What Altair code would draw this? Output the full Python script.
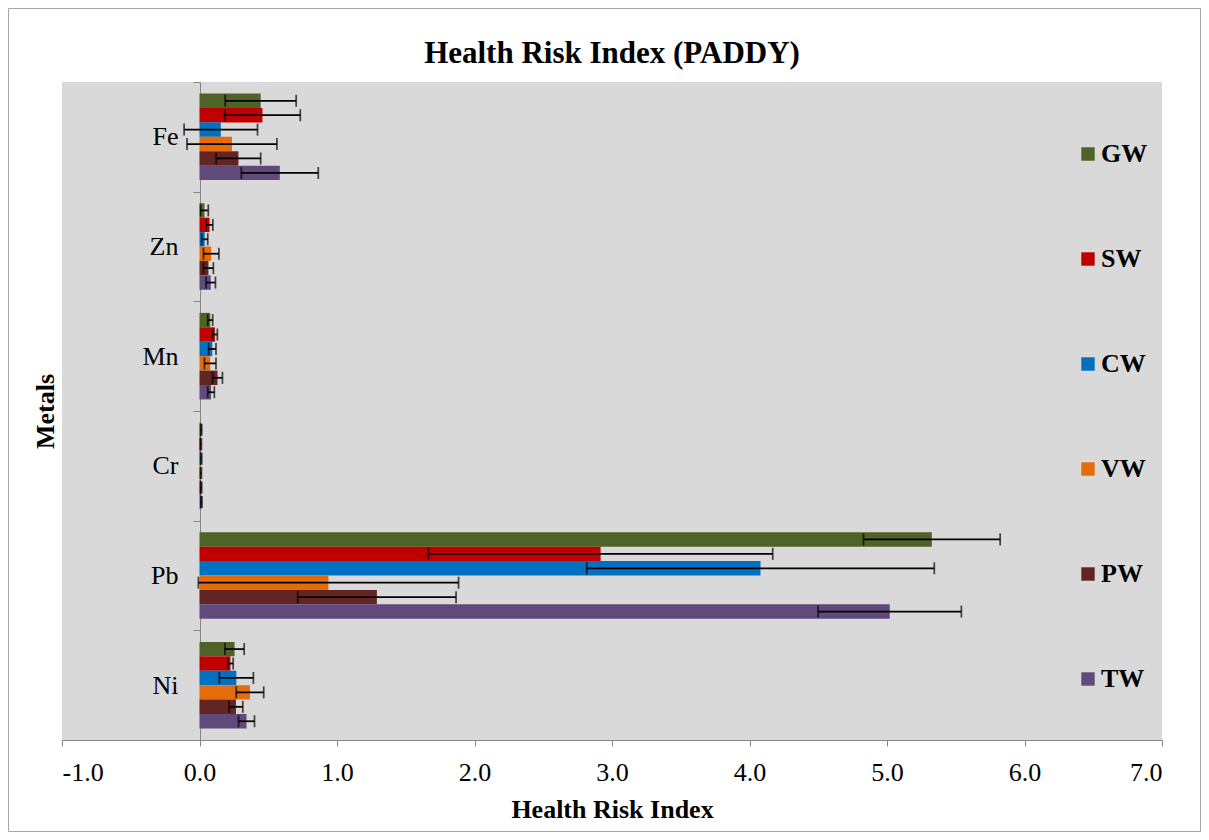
import altair as alt
import pandas as pd

metals = ["Fe", "Zn", "Mn", "Cr", "Pb", "Ni"]
series = ["GW", "SW", "CW", "VW", "PW", "TW"]
colors = ["#4F6228", "#C00000", "#0070C0", "#E46C0A", "#632523", "#604A7B"]

gw = [0.445, 0.036, 0.078, 0.012, 5.326, 0.255]
sw = [0.458, 0.073, 0.112, 0.010, 2.917, 0.225]
cw = [0.155, 0.038, 0.093, 0.012, 4.080, 0.268]
vw = [0.236, 0.085, 0.078, 0.010, 0.938, 0.367]
pw = [0.283, 0.065, 0.131, 0.012, 1.290, 0.265]
tw = [0.584, 0.082, 0.084, 0.014, 5.020, 0.342]

gw_err = [0.258, 0.028, 0.018, 0.004, 0.497, 0.070]
sw_err = [0.275, 0.024, 0.018, 0.004, 1.252, 0.020]
cw_err = [0.267, 0.022, 0.027, 0.004, 1.264, 0.124]
vw_err = [0.327, 0.056, 0.042, 0.004, 0.946, 0.100]
pw_err = [0.162, 0.036, 0.036, 0.004, 0.576, 0.050]
tw_err = [0.280, 0.034, 0.024, 0.004, 0.521, 0.058]

x_ticks = [-1, 0, 1, 2, 3, 4, 5, 6, 7]

rows = []
for s, vals, errs in zip(series, [gw, sw, cw, vw, pw, tw],
                         [gw_err, sw_err, cw_err, vw_err, pw_err, tw_err]):
    for m, v, e in zip(metals, vals, errs):
        rows.append(dict(metal=m, series=s, value=v, lo=v - e, hi=v + e))
df = pd.DataFrame(rows)

FONT = "Liberation Serif"
W, H = 1100, 658
PAD = {"left": 54, "top": 74, "right": 39, "bottom": 92}
GRAY = "#868686"

x_scale = alt.Scale(domain=[-1, 7], nice=False)
x_axis = alt.Axis(values=x_ticks,
                  labelExpr="datum.value < 0 ? '-' + format(-datum.value, '.1f') : format(datum.value, '.1f')",
                  grid=False, labelFont=FONT, labelFontSize=26, labelColor="black",
                  labelBaseline="alphabetic", tickColor=GRAY, domainColor=GRAY,
                  tickSize=6, labelPadding=34, titleFont=FONT, titleFontSize=26,
                  titleFontWeight="bold", titleColor="black", titleBaseline="alphabetic",
                  titleY=77, titleX=W / 2, titleAlign="center")
y_scale = alt.Scale(domain=metals, paddingInner=0, paddingOuter=0)
y_axis = alt.Axis(offset=-138, tickBand="extent", labelFont=FONT, labelFontSize=26,
                  labelColor="black", tickColor=GRAY, domainColor=GRAY,
                  tickSize=7, labelPadding=15, titleFont=FONT, titleFontSize=26,
                  titleFontWeight="bold", titleColor="black", titleX=-147,
                  titleY=H / 2, titleAngle=-90, titleAlign="center",
                  titleBaseline="alphabetic")
yoff = alt.YOffset("series:N", sort=series,
                   scale=alt.Scale(domain=series, paddingInner=0, paddingOuter=0.8))
y_enc = alt.Y("metal:N", sort=metals, scale=y_scale, axis=y_axis, title="Metals")

bars = alt.Chart(df).mark_bar().encode(
    x=alt.X("value:Q", scale=x_scale, axis=x_axis, title="Health Risk Index"),
    y=y_enc,
    yOffset=yoff,
    color=alt.Color("series:N", sort=series,
                    scale=alt.Scale(domain=series, range=colors),
                    legend=alt.Legend(orient="none", legendX=1013, legendY=59,
                                      title=None, labelFont=FONT, labelFontSize=26,
                                      labelFontWeight="bold", labelColor="black",
                                      symbolType="square", symbolSize=180,
                                      symbolStrokeWidth=0, rowPadding=79,
                                      labelOffset=0, padding=0)),
)

rules = alt.Chart(df).mark_rule(color="black", strokeWidth=1.75).encode(
    x=alt.X("lo:Q", scale=x_scale, axis=x_axis, title="Health Risk Index"),
    x2="hi:Q",
    y=y_enc,
    yOffset=yoff,
)

caps = alt.Chart(df).transform_fold(["lo", "hi"], as_=["end", "pos"]).mark_tick(
    color="black", thickness=1.75, size=12, orient="vertical"
).encode(
    x=alt.X("pos:Q", scale=x_scale, axis=x_axis, title="Health Risk Index"),
    y=y_enc,
    yOffset=yoff,
)

frame = alt.Chart(pd.DataFrame({"k": [0]})).mark_rect(
    fill=None, stroke="#A6A6A6", strokeWidth=1
).encode(
    x=alt.value(-PAD["left"] + 0.5), x2=alt.value(W + PAD["right"] - 0.5),
    y=alt.value(-PAD["top"] + 0.5), y2=alt.value(H + PAD["bottom"] - 0.5),
)

chart = alt.layer(bars, rules, caps, frame).properties(
    width=W, height=H,
    title=alt.TitleParams("Health Risk Index (PADDY)", font=FONT, fontSize=31,
                          fontWeight="bold", color="black", anchor="middle",
                          baseline="alphabetic", offset=-86),
    autosize=alt.AutoSizeParams(type="none"),
    padding=PAD,
    background="white",
).configure_view(fill="#D9D9D9", stroke=None)

chart.save("out.html", embed_options={"renderer": "svg", "actions": False})
